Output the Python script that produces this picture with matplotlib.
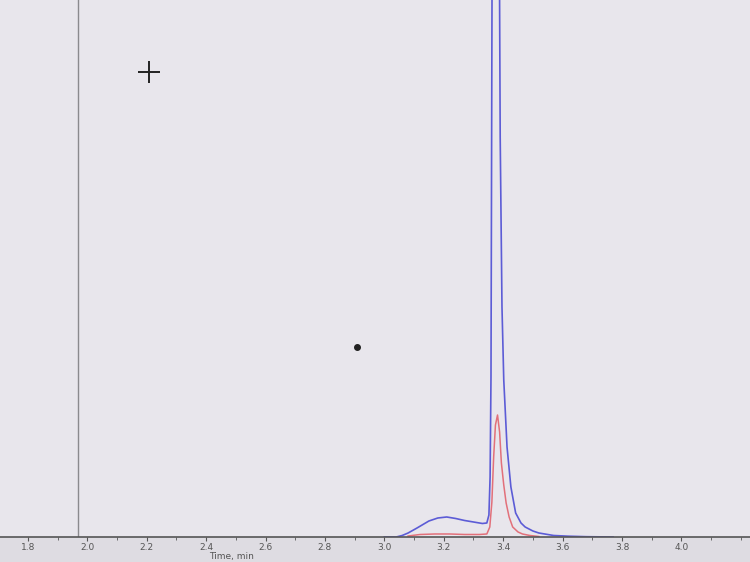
import numpy as np
import matplotlib
matplotlib.use("Agg")
import matplotlib.pyplot as plt

# blue trace (TIC-like), time in min, intensity in counts
blue_time = [3.00, 3.04, 3.06, 3.08, 3.11, 3.15, 3.18, 3.21, 3.24, 3.27, 3.30, 3.33, 3.345,
             3.352, 3.356, 3.359, 3.363, 3.368, 3.373, 3.378, 3.384, 3.390, 3.396, 3.402,
             3.413, 3.426, 3.442, 3.46, 3.474, 3.50, 3.52, 3.55, 3.57, 3.62, 3.68, 3.77]
blue_int = [0, 0, 1500, 4000, 9000, 16000, 19000, 20000, 18500, 16500, 15000, 13500, 14000,
            22000, 60000, 160000, 600000, 1400000, 1900000, 1500000, 800000, 400000, 230000, 157000,
            90000, 50000, 24000, 14000, 10000, 6000, 4000, 2500, 1500, 800, 300, 0]

# red trace
red_time = [3.08, 3.12, 3.17, 3.22, 3.27, 3.32, 3.345, 3.355, 3.362, 3.368, 3.374, 3.381,
            3.388, 3.394, 3.402, 3.41, 3.42, 3.432, 3.45, 3.465, 3.49, 3.52]
red_int = [1000, 2500, 3000, 3000, 2500, 2500, 3000, 10000, 35000, 80000, 112000, 122000,
           105000, 74000, 52000, 34000, 20000, 10000, 5000, 3000, 1500, 500]

xticks = np.round(np.arange(1.8, 4.01, 0.2), 1)
xtick_labels = [f"{t:.1f}" for t in xticks]

cursor_pos = (2.208, 465000)
speck_pos = (2.908, 190000)
divider_time = 1.97

fig = plt.figure(figsize=(7.5, 5.62), dpi=100, facecolor="#dedce2")
ax = fig.add_axes([0, 0.0445, 1, 0.9555])
ax.set_facecolor("#e8e6ec")

ax.plot(blue_time, blue_int, color="#5c5cd6", lw=1.2)
ax.plot(red_time, red_int, color="#e2707a", lw=1.1)

ax.axvline(divider_time, color="#8a8a8e", lw=1)
ax.plot(*cursor_pos, marker="+", color="#222222", ms=16, mew=1.4)
ax.plot(*speck_pos, marker="o", color="#222222", ms=4)

ax.set_xlim(1.706, 4.231)
ax.set_ylim(0, 537000)

for side in ["top", "right", "left"]:
    ax.spines[side].set_visible(False)
ax.spines["bottom"].set_color("#555555")
ax.spines["bottom"].set_linewidth(1.2)

ax.set_yticks([])
ax.set_xticks(xticks)
ax.set_xticklabels(xtick_labels)
ax.set_xticks(np.arange(1.8, 4.2, 0.1), minor=True)
ax.tick_params(axis="x", which="major", direction="out", length=3, color="#555555",
               labelsize=6.5, labelcolor="#555555", pad=1.5)
ax.tick_params(axis="x", which="minor", direction="out", length=2, color="#555555")

fig.text(232 / 750, 1 / 562, "Time, min", fontsize=6.5, color="#555555",
         ha="center", va="bottom")

fig.savefig("out.png", dpi=100, facecolor=fig.get_facecolor())
